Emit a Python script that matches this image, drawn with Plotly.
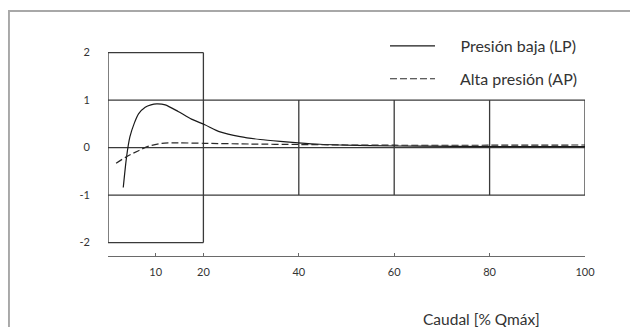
import plotly.graph_objects as go

# ---- data ----
lp_x = [3.2, 3.9, 4.6, 5.5, 6.4, 7.8, 9.0, 10.2, 12.0, 14.7, 17.5, 20.3, 23.5, 27.7,
        31.9, 36.1, 39.9, 44.4, 48.6, 55, 65, 80, 100]
lp_y = [-0.84, -0.19, 0.23, 0.51, 0.71, 0.85, 0.90, 0.92, 0.90, 0.76, 0.60, 0.48, 0.33,
        0.23, 0.17, 0.13, 0.10, 0.07, 0.055, 0.04, 0.03, 0.02, 0.02]

ap_x = [1.7, 3.9, 6.4, 8.5, 11.3, 14.7, 20.3, 30, 40, 50, 60, 80, 100]
ap_y = [-0.33, -0.19, -0.065, 0.03, 0.09, 0.10, 0.09, 0.075, 0.065, 0.055, 0.05, 0.05, 0.055]

x_ticks = [0, 10, 20, 40, 60, 80, 100]
x_tick_text = ["", "10", "20", "40", "60", "80", "100"]
y_ticks = [-2, -1, 0, 1, 2]
y_tick_text = ["-2", "-1", "0", "1", "2"]

lp_name = "Presión baja (LP)"
ap_name = "Alta presión (AP)"
x_title = "Caudal [% Qmáx]"

# grid frame: horizontal segments (y, x0, x1) and vertical segments (x, y0, y1)
h_lines = [(2, 0, 20), (1, 0, 100), (0, 0, 100), (-1, 0, 100), (-2, 0, 20)]
v_lines = [(0, -2, 2), (20, -2, 2), (40, -1, 1), (60, -1, 1), (80, -1, 1), (100, -1, 1)]

FONT = "Lato"
GRID = "#3a3a3a"
PAD = "\u00a0" * 5  # space between legend sample and its label

fig = go.Figure()
fig.add_trace(go.Scatter(x=lp_x, y=lp_y, mode="lines", name=PAD + lp_name, legendgroup="a",
                         line=dict(color="#1a1a1a", width=1.2, shape="spline", smoothing=0.7)))
fig.add_trace(go.Scatter(x=ap_x, y=ap_y, mode="lines", name=PAD + ap_name, legendgroup="b",
                         line=dict(color="#2a2a2a", width=1.2, dash="7px,3px",
                                   shape="spline", smoothing=0.7)))

shapes = []
for y, x0, x1 in h_lines:
    shapes.append(dict(type="line", xref="x", yref="y", x0=x0, x1=x1, y0=y, y1=y,
                       line=dict(color=GRID, width=1.3), layer="below"))
for x, y0, y1 in v_lines:
    shapes.append(dict(type="line", xref="x", yref="y", x0=x, x1=x, y0=y0, y1=y1,
                       line=dict(color=GRID, width=1.3), layer="below"))
# outer grey frame
shapes.append(dict(type="rect", xref="paper", yref="paper", x0=-0.2079, x1=2.0,
                   y0=-1.0, y1=1.0381, line=dict(color="#a8a8a8", width=2.2),
                   fillcolor="rgba(0,0,0,0)"))

fig.update_layout(
    width=630, height=319,
    margin=dict(l=100, r=53, t=12, b=71),
    paper_bgcolor="white", plot_bgcolor="white",
    font=dict(family=FONT, color="#333333", size=11),
    shapes=shapes,
    showlegend=True,
    legend=dict(x=0.5807, y=0.9617, xanchor="left", yanchor="top",
                bgcolor="rgba(0,0,0,0)", font=dict(size=16, color="#333333"),
                itemwidth=45, tracegroupgap=9),
    annotations=[dict(text=x_title, xref="paper", yref="paper", x=0.782, y=-0.267,
                      xanchor="center", yanchor="middle", showarrow=False,
                      font=dict(size=15.5, color="#333333"))],
)
fig.update_xaxes(range=[0, 100], tickvals=x_ticks, ticktext=x_tick_text,
                 showgrid=False, zeroline=False, showline=True, linecolor="#6a6a6a",
                 linewidth=1.3, ticks="inside", ticklen=3, tickcolor="#6a6a6a",
                 tickwidth=1.2, ticklabelstandoff=6, tickfont=dict(size=11, color="#333333"))
fig.update_yaxes(range=[-2.282, 2.686], tickvals=y_ticks, ticktext=y_tick_text,
                 showgrid=False, zeroline=False,
                 showline=False, ticks="", ticklabelstandoff=17,
                 tickfont=dict(size=11, color="#333333"))

fig.write_html("out.html")
